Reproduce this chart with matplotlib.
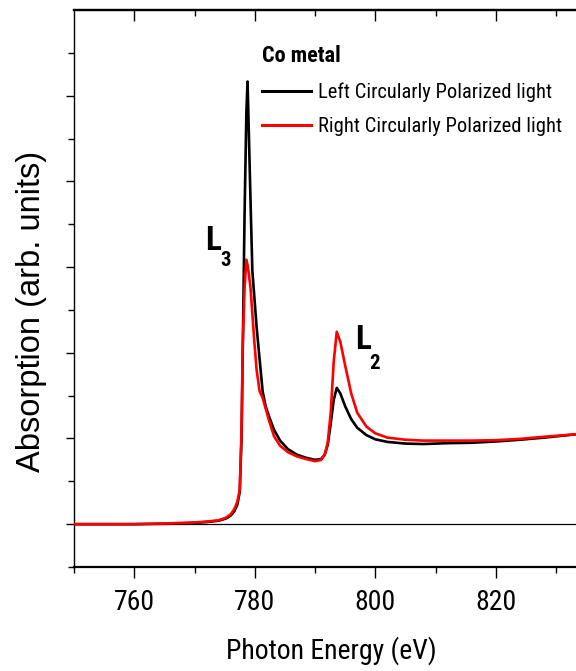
import matplotlib
matplotlib.use("Agg")
import matplotlib.pyplot as plt

plt.rcParams['font.family'] = ['Roboto Condensed', 'Liberation Sans', 'DejaVu Sans']

# Photon energy grid (eV)
energy = [750, 760, 766, 770, 772, 774, 775.2, 776.0, 776.6, 777.1, 777.5, 777.8,
          778.0, 778.3, 778.6, 778.8, 779.0, 779.3, 779.6, 779.9, 780.3, 780.8,
          781.3, 781.8, 782.4, 783.2, 784.2, 785.5, 787.0, 788.5, 790.0, 791.0,
          791.6, 792.1, 792.6, 793.1, 793.6, 794.2, 795.0, 796.0, 797.0, 798.5,
          800.0, 802.0, 805.0, 808.0, 812.0, 816.0, 820.0, 824.0, 828.0, 833.5]

# Left circularly polarized (black)
lcp = [0, 0, 0.01, 0.03, 0.05, 0.08, 0.13, 0.2, 0.3, 0.45, 0.75, 2.0,
       4.0, 7.2, 9.6, 10.33, 9.2, 7.5, 5.9, 5.35, 4.6, 3.85,
       3.1, 2.75, 2.5, 2.2, 1.95, 1.75, 1.62, 1.55, 1.5, 1.52,
       1.62, 1.85, 2.35, 2.9, 3.18, 3.05, 2.75, 2.45, 2.25, 2.08,
       1.98, 1.92, 1.88, 1.87, 1.89, 1.9, 1.93, 1.97, 2.02, 2.1]

# Right circularly polarized (red)
rcp = [0, 0, 0.02, 0.04, 0.06, 0.09, 0.15, 0.23, 0.35, 0.52, 0.8, 2.2,
       4.2, 5.5, 6.17, 6.05, 5.85, 5.5, 4.9, 4.3, 3.6, 3.1,
       2.95, 2.7, 2.4, 2.05, 1.83, 1.68, 1.58, 1.52, 1.47, 1.5,
       1.62, 1.9, 2.6, 3.8, 4.49, 4.25, 3.7, 3.05, 2.6, 2.28,
       2.12, 2.02, 1.97, 1.95, 1.95, 1.95, 1.96, 1.99, 2.04, 2.1]

fig = plt.figure(figsize=(5.76, 6.71), dpi=100)
ax = fig.add_axes([74/576, 1 - 567/671, 1 - 74/576, (567 - 10)/671])

ax.axhline(0, color='black', lw=0.9, zorder=1)
ax.plot(energy, lcp, color='black', lw=1.9, label='Left Circularly Polarized light', zorder=2)
ax.plot(energy, rcp, color='#ff0000', lw=1.9, label='Right Circularly Polarized light', zorder=3)

ax.set_xlim(750, 833.3)
ax.set_ylim(-1, 12)

ax.spines['right'].set_visible(False)
ax.spines['top'].set_linewidth(1.6)
ax.spines['bottom'].set_linewidth(1.6)
ax.spines['left'].set_linewidth(1.0)

ax.set_xticks([760, 780, 800, 820])
ax.set_xticks([750, 770, 790, 810, 830], minor=True)
ax.set_yticks([0, 2, 4, 6, 8, 10])
ax.set_yticks([-1, 1, 3, 5, 7, 9, 11], minor=True)
ax.set_yticklabels([])
ax.tick_params(axis='x', which='major', direction='out', length=8, width=1.0,
               labelsize=20, pad=8)
ax.tick_params(axis='x', which='minor', direction='out', length=4.5, width=1.0)
ax.tick_params(axis='y', which='major', direction='out', length=6, width=1.0)
ax.tick_params(axis='y', which='minor', direction='out', length=4.5, width=1.0)

top = ax.secondary_xaxis('top')
top.set_xticks([760, 780, 800, 820])
top.set_xticks([770, 790, 810, 830], minor=True)
top.tick_params(which='major', direction='in', length=8, width=1.0, labeltop=False)
top.tick_params(which='minor', direction='in', length=4.5, width=1.0)
top.spines['top'].set_linewidth(1.6)

ax.set_xlabel('Photon Energy (eV)', fontsize=20)
ax.xaxis.set_label_coords(0.513, -0.125)
fig.text(32/576, 1 - 311/671, 'Absorption (arb. units)', rotation=90,
         ha='center', va='center', fontsize=23.5, family=['Liberation Sans', 'DejaVu Sans'])

# edge labels
ax.text(773.0, 6.6, 'L', fontsize=24, fontweight='bold', ha='center', va='center')
ax.text(775.1, 6.15, '3', fontsize=15, fontweight='bold', ha='center', va='center')
ax.text(797.9, 4.3, 'L', fontsize=24, fontweight='bold', ha='center', va='center')
ax.text(799.9, 3.75, '2', fontsize=15, fontweight='bold', ha='center', va='center')

leg = ax.legend(loc='upper left', bbox_to_anchor=(262/576, 1 - 45/671),
                bbox_transform=fig.transFigure, frameon=False, fontsize=14.8,
                title='Co metal', title_fontproperties={'weight': 'bold', 'size': 16},
                alignment='left', handlelength=2.4, handletextpad=0.3,
                labelspacing=0.75, borderpad=0, borderaxespad=0)
for line in leg.get_lines():
    line.set_linewidth(2.2)

fig.savefig('out.png', dpi=100)
